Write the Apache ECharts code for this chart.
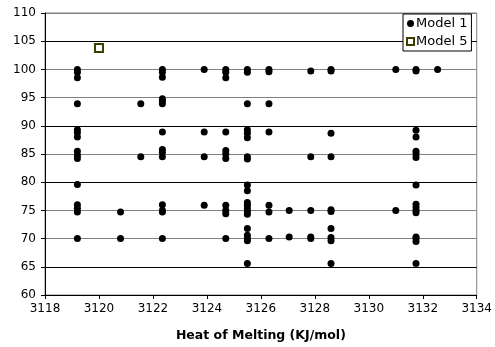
<!DOCTYPE html>
<html>
<head>
<meta charset="utf-8">
<script src="https://cdn.jsdelivr.net/npm/echarts@6/dist/echarts.min.js"></script>
<style>html,body{margin:0;padding:0;background:#fff}#c{width:495px;height:347px}</style>
</head>
<body>
<div id="c"></div>
<script>
// Model 1: x positions of the point columns and the y values in each column
var m1ColumnX = [3119.2, 3120.8, 3121.55, 3122.35, 3123.9, 3124.7, 3125.5, 3126.3, 3127.05, 3127.85, 3128.6, 3131.0, 3131.75, 3132.55];
var m1ColumnY = [
  [100, 99.5, 98.5, 93.9, 89.3, 88.8, 88.0, 85.5, 84.8, 84.2, 79.6, 76.0, 75.4, 74.7, 70],
  [74.7, 70],
  [93.9, 84.5],
  [100, 99.5, 98.6, 94.8, 94.4, 93.9, 88.9, 85.8, 85.3, 84.5, 76, 75, 74.7, 70],
  [100, 88.9, 84.5, 75.9],
  [100, 99.5, 98.5, 88.9, 85.6, 85, 84.2, 75.9, 75, 74.4, 70],
  [100, 99.5, 93.9, 89.3, 88.7, 87.9, 84.5, 84.1, 79.5, 78.5, 76.4, 75.9, 75.3, 74.8, 74.3, 71.8, 70.6, 70, 69.6, 65.6],
  [100, 99.6, 93.9, 88.9, 75.9, 74.7, 70],
  [75, 70.3],
  [99.7, 84.5, 75, 70.3, 70],
  [100, 99.7, 88.7, 84.5, 75.1, 74.8, 71.8, 70.2, 69.6, 65.6],
  [100, 75],
  [100, 99.7, 89.2, 88, 85.5, 85, 84.4, 79.5, 76.1, 75.5, 75, 74.6, 70.3, 70, 69.5, 65.6],
  [100]
];
// Model 5
var m5X = [3120.0];
var m5Y = [103.8];

var xTicks = {min: 3118, max: 3134, interval: 2};
var yTicks = {min: 60, max: 110, interval: 5};

var m1Data = [];
m1ColumnX.forEach(function (x, i) {
  m1ColumnY[i].forEach(function (y) { m1Data.push([x, y]); });
});
var m5Data = m5X.map(function (x, i) { return [x, m5Y[i]]; });

var font = 'DejaVu Sans';
var chart = echarts.init(document.getElementById('c'), null, {renderer: 'canvas'});
chart.setOption({
  animation: false,
  backgroundColor: '#fff',
  textStyle: {fontFamily: font},
  grid: {left: 45, right: 15, top: 13, bottom: 50, show: true, borderColor: '#808080', borderWidth: 1, backgroundColor: 'transparent'},
  legend: {
    orient: 'vertical', left: 403, top: 14,
    backgroundColor: '#fff', borderColor: '#000', borderWidth: 1,
    padding: [3, 4, 3, 3], itemGap: 5, itemWidth: 7, itemHeight: 7,
    textStyle: {fontFamily: font, fontSize: 13, color: '#000', padding: [0, 0, 0, -3]},
    data: [{name: 'Model 1'}, {name: 'Model 5'}]
  },
  xAxis: {
    type: 'value', min: xTicks.min, max: xTicks.max, interval: xTicks.interval,
    name: 'Heat of Melting (KJ/mol)', nameLocation: 'middle', nameGap: 34,
    nameTextStyle: {fontFamily: font, fontSize: 12.5, fontWeight: 'bold', color: '#000'},
    axisLine: {show: true, lineStyle: {color: '#000', width: 1}},
    axisTick: {show: true, length: 4, inside: false, lineStyle: {color: '#000'}},
    axisLabel: {fontFamily: font, fontSize: 12, color: '#000', margin: 8, formatter: function (v) { return String(v); }},
    splitLine: {show: false}
  },
  yAxis: {
    type: 'value', min: yTicks.min, max: yTicks.max, interval: yTicks.interval,
    axisLine: {show: true, lineStyle: {color: '#000', width: 1}},
    axisTick: {show: true, length: 4, lineStyle: {color: '#000'}},
    axisLabel: {fontFamily: font, fontSize: 12, color: '#000', margin: 9},
    splitLine: {show: true, lineStyle: {width: 1, color: ['#000', '#000', '#808080', '#808080', '#000', '#808080', '#000', '#808080', '#808080', '#000', '#808080']}}
  },
  series: [
    {
      name: 'Model 1', type: 'scatter', data: m1Data,
      symbol: 'circle', symbolSize: 7,
      itemStyle: {color: '#000', opacity: 1}
    },
    {
      name: 'Model 5', type: 'scatter', data: m5Data,
      symbol: 'rect', symbolSize: 8,
      itemStyle: {color: '#fff', borderColor: '#3d3d00', borderWidth: 2, opacity: 1}
    }
  ]
});
</script>
</body>
</html>
